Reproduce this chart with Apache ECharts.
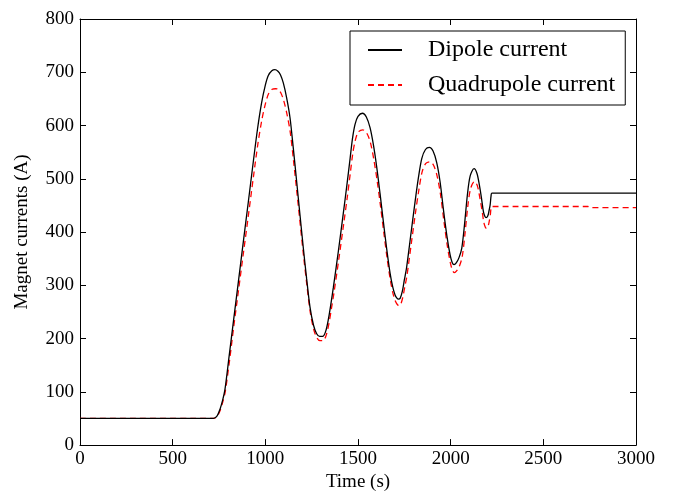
<!DOCTYPE html>
<html>
<head>
<meta charset="utf-8">
<script src="https://cdn.jsdelivr.net/npm/echarts@6/dist/echarts.min.js"></script>
<style>html,body{margin:0;padding:0;background:#fff;overflow:hidden}#c{width:681px;height:497px}</style>
</head>
<body>
<div id="c"></div>
<script>
var xTicks = [0, 500, 1000, 1500, 2000, 2500, 3000];
var yTicks = [0, 100, 200, 300, 400, 500, 600, 700, 800];

var dipoleTime = [0,720,740,755,770,782,805,827,855,881,908,935,958,980,1000,1016,1035,1052,1068,1082,1097,1115,1133,1151,1169,1187,1205,1223,1241,1260,1277,1293,1309,1325,1340,1355,1367,1394,1421,1440,1457,1470,1484,1500,1524,1545,1565,1583,1601,1619,1637,1655,1673,1688,1700,1710,1718,1728,1740,1750,1762,1785,1808,1826,1844,1864,1885,1905,1925,1943,1961,1980,1997,2008,2018,2030,2045,2060,2075,2090,2105,2126,2142,2155,2167,2177,2185,2191,2200,2207,2213,2218,2222,3000];
var dipoleCurrent = [50,50,55,67,85,104,168,230,308,381,456,532,594,643,676,694,703,705,702,695,680,652,615,557,495,432,370,312,259,225,209,204,204,213,236,268,296,364,436,488,537,575,602,617,623,616,596,564,522,472,419,368,323,296,282,276,274,276,290,310,333,395,457,502,538,555,559,552,530,494,442,392,357,343,339,342,352,370,415,469,505,519,510,488,462,438,429,427,430,440,451,468,473,473];

var quadTime = [0,720,742,757,772,784,807,829,857,883,910,937,960,982,1002,1018,1037,1054,1070,1084,1099,1117,1135,1153,1171,1189,1207,1225,1243,1262,1279,1295,1311,1327,1342,1357,1369,1396,1423,1442,1459,1472,1486,1502,1526,1547,1567,1585,1603,1621,1639,1657,1675,1690,1702,1712,1720,1730,1742,1752,1764,1787,1810,1828,1846,1866,1887,1907,1927,1945,1963,1982,1999,2010,2020,2032,2047,2062,2077,2092,2107,2128,2144,2157,2169,2179,2187,2193,2201,2208,2214,2217,2221,2740,2760,3000];
var quadCurrent = [50,50,55,66,83,101,159,221,295,364,435,507,566,612,643,660,668,669,668,661,647,621,586,531,472,412,353,298,248,216,201,196,196,205,226,257,283,348,416,465,512,548,573,588,592,586,568,537,497,450,400,351,309,283,270,264,262,264,278,296,318,377,436,478,513,529,532,526,505,471,422,374,341,328,324,327,336,353,396,447,481,495,487,465,441,418,409,407,410,420,432,443,448,448,446,446];

function pairs(t, v) { return t.map(function (x, i) { return [x, v[i]]; }); }

var font = 'Liberation Serif';
var chart = echarts.init(document.getElementById('c'), null, {renderer: 'canvas', width: 681, height: 497});
var axisLine = {show: true, onZero: false, lineStyle: {color: '#000', width: 1}};
var tick = {show: true, inside: true, length: 6, lineStyle: {color: '#000', width: 1}};
chart.setOption({
  animation: false,
  backgroundColor: '#fff',
  grid: {left: 80, top: 19, width: 556, height: 430, containLabel: false},
  legend: {
    orient: 'vertical', left: 350, top: 31,
    backgroundColor: '#fff',
    borderColor: '#000', borderWidth: 1, borderRadius: 0,
    padding: [7, 10, 8, 17],
    itemWidth: 34, itemHeight: 14, itemGap: 11,
    itemStyle: {opacity: 0},
    textStyle: {fontFamily: font, fontSize: 24, lineHeight: 24, color: '#000', padding: [0, 0, 0, 21]},
    data: ['Dipole current', 'Quadrupole current']
  },
  xAxis: [{
    type: 'value', min: 0, max: 3000, interval: 500,
    name: 'Time (s)', nameLocation: 'middle', nameGap: 27,
    nameTextStyle: {fontFamily: font, fontSize: 19, color: '#000'},
    axisLine: axisLine, axisTick: tick, splitLine: {show: false},
    axisLabel: {fontFamily: font, fontSize: 19, color: '#000', margin: 4,
      formatter: function (v) { return xTicks.indexOf(v) >= 0 ? String(v) : ''; }}
  }, {
    type: 'value', position: 'top', min: 0, max: 3000, interval: 500,
    axisLine: axisLine, axisTick: tick, splitLine: {show: false}, axisLabel: {show: false}
  }],
  yAxis: [{
    type: 'value', min: 0, max: 800, interval: 100,
    name: 'Magnet currents (A)', nameLocation: 'middle', nameGap: 48, nameRotate: 90,
    nameTextStyle: {fontFamily: font, fontSize: 19, color: '#000'},
    axisLine: axisLine, axisTick: tick, splitLine: {show: false},
    axisLabel: {fontFamily: font, fontSize: 19, color: '#000', margin: 6,
      formatter: function (v) { return yTicks.indexOf(v) >= 0 ? String(v) : ''; }}
  }, {
    type: 'value', position: 'right', min: 0, max: 800, interval: 100,
    axisLine: axisLine, axisTick: tick, splitLine: {show: false}, axisLabel: {show: false}
  }],
  series: [{
    name: 'Dipole current', type: 'line', symbol: 'none', smooth: 0.3,
    data: pairs(dipoleTime, dipoleCurrent),
    lineStyle: {color: '#000', width: 1.3}, itemStyle: {color: '#000'}, z: 3
  }, {
    name: 'Quadrupole current', type: 'line', symbol: 'none', smooth: 0.3,
    data: pairs(quadTime, quadCurrent),
    lineStyle: {color: '#ff0000', width: 1.3, type: [6, 4]}, itemStyle: {color: '#ff0000'}, z: 2
  }]
});
</script>
</body>
</html>
